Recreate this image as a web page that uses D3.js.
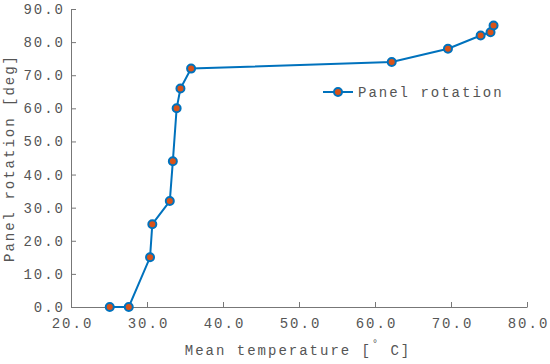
<!DOCTYPE html>
<html>
<head>
<meta charset="utf-8">
<script src="https://cdn.jsdelivr.net/npm/d3@7"></script>
<style>
  body { margin: 0; background: #fff; }
  svg text { font-family: "Liberation Mono", "Courier New", monospace; fill: #555; }
</style>
</head>
<body>
<svg id="chart" width="550" height="364"></svg>
<script>
const temps = [25.1, 27.6, 30.4, 30.7, 33.0, 33.4, 33.9, 34.4, 35.8, 62.2, 69.6, 73.9, 75.2, 75.6];
const rotation = [0, 0, 15, 25, 32, 44, 60, 66, 72, 74, 78, 82, 83, 85];
const xTicks = [20, 30, 40, 50, 60, 70, 80];
const yTicks = [0, 10, 20, 30, 40, 50, 60, 70, 80, 90];
const seriesName = 'Panel rotation';

const lineColor = '#0072BD';
const faceColor = '#D95319';
const axisColor = '#777';

const svg = d3.select('#chart');
const x = d3.scaleLinear().domain([20, 80]).range([71, 527]);
const y = d3.scaleLinear().domain([0, 90]).range([307, 9]);

const fontSize = 14;
const spacing = 2;

// x axis
const xAxis = svg.append('g').attr('transform', `translate(0,${y(0)})`)
  .call(d3.axisBottom(x).tickValues(xTicks).tickSizeInner(-5).tickSizeOuter(0)
    .tickFormat(d3.format('.1f')).tickPadding(11));
xAxis.select('.domain').attr('stroke', axisColor);
xAxis.selectAll('.tick line').attr('stroke', axisColor);
xAxis.selectAll('.tick text').attr('font-size', fontSize).attr('letter-spacing', spacing)
  .attr('dx', spacing / 2).attr('font-family', null).attr('fill', null);

// y axis
const yAxis = svg.append('g').attr('transform', `translate(${x(20)},0)`)
  .call(d3.axisLeft(y).tickValues(yTicks).tickSizeInner(-5).tickSizeOuter(0)
    .tickFormat(d3.format('.1f')).tickPadding(6));
yAxis.select('.domain').attr('stroke', axisColor);
yAxis.selectAll('.tick line').attr('stroke', axisColor);
yAxis.selectAll('.tick text').attr('font-size', fontSize).attr('letter-spacing', spacing)
  .attr('font-family', null).attr('fill', null);

// axis titles
const xt = svg.append('text').attr('x', 298).attr('y', 355).attr('text-anchor', 'middle')
  .attr('font-size', fontSize).attr('letter-spacing', spacing);
xt.append('tspan').text('Mean temperature [');
xt.append('tspan').attr('dy', -8).attr('font-size', 10).text('°');
xt.append('tspan').attr('dy', 8).text(' C]');

svg.append('text')
  .attr('transform', 'translate(14,158) rotate(-90)')
  .attr('text-anchor', 'middle')
  .attr('font-size', fontSize).attr('letter-spacing', spacing)
  .text('Panel rotation [deg]');

// series
const pts = temps.map((t, i) => ({ t, r: rotation[i] }));
const line = d3.line().x(d => x(d.t)).y(d => y(d.r));
svg.append('path').datum(pts).attr('d', line)
  .attr('fill', 'none').attr('stroke', lineColor).attr('stroke-width', 2);
svg.selectAll('.pt').data(pts).join('circle').attr('class', 'pt')
  .attr('cx', d => x(d.t)).attr('cy', d => y(d.r)).attr('r', 4)
  .attr('fill', faceColor).attr('stroke', lineColor).attr('stroke-width', 2);

// legend
const lg = svg.append('g').attr('transform', 'translate(323,92)');
lg.append('line').attr('x1', 0).attr('x2', 30).attr('stroke', lineColor).attr('stroke-width', 2);
lg.append('circle').attr('cx', 15).attr('r', 4).attr('fill', faceColor)
  .attr('stroke', lineColor).attr('stroke-width', 2);
lg.append('text').attr('x', 35).attr('dy', '0.35em').attr('font-size', fontSize)
  .attr('letter-spacing', spacing).text(seriesName);
</script>
</body>
</html>
